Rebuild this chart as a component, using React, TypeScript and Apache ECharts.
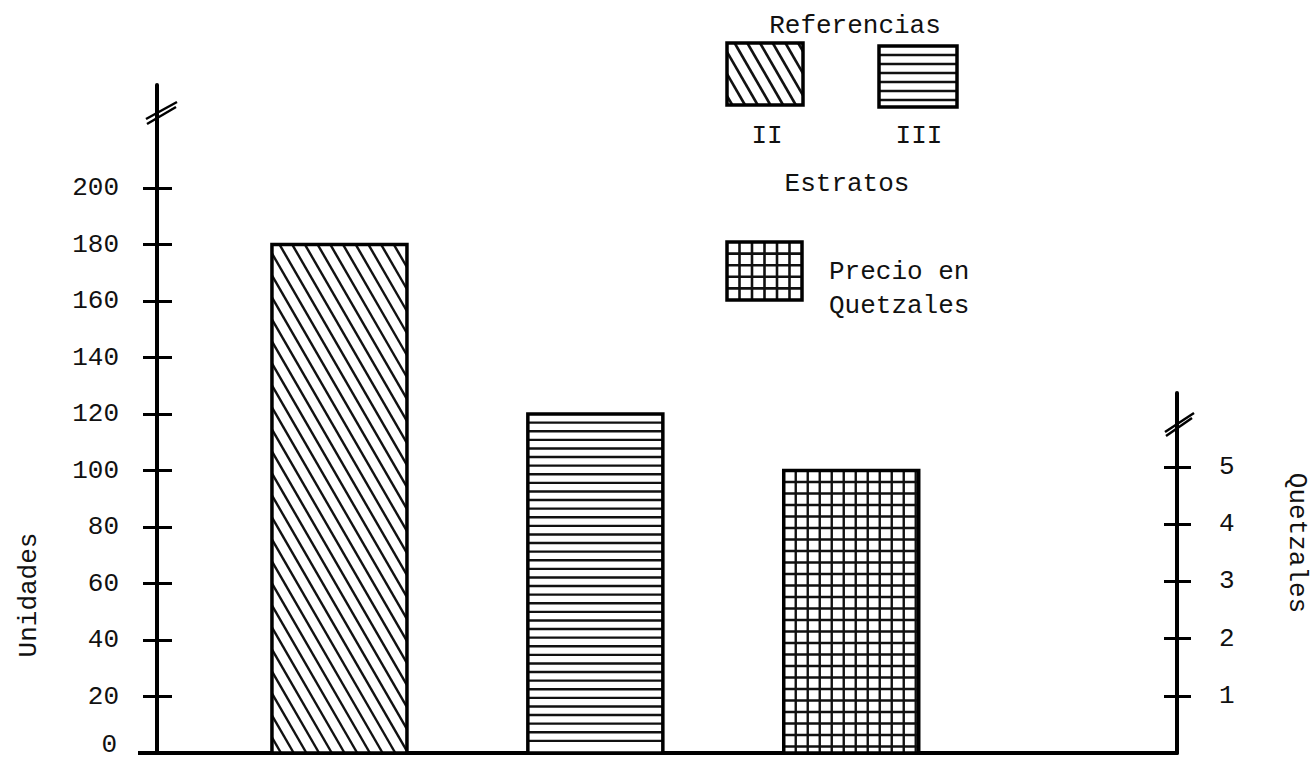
import React, { useEffect, useRef } from "react";
import * as echarts from "echarts";

// ---- data ----
const categories = ["II", "III", "Precio en Quetzales"];
const unidades = [180, 120, 100];
const patterns = ["diagonal", "horizontal", "grid"];
const leftTickValues = [20, 40, 60, 80, 100, 120, 140, 160, 180, 200];
const leftLabelValues = [0, 20, 40, 60, 80, 100, 120, 140, 160, 180, 200];
const rightValues = [1, 2, 3, 4, 5];
const leftAxisName = "Unidades";
const rightAxisName = "Quetzales";
const legendTitle = "Referencias";
const legendGroupName = "Estratos";
const legendPriceLines = ["Precio en", "Quetzales"];

const FONT = '"Liberation Mono", "Courier New", monospace';
const INK = "#111";

type Line = { type: string; shape: any; style: any; silent?: boolean };

function hatch(kind: string, x0: number, y0: number, w: number, h: number, lw: number, spD = 12.7, spH = 8.6, spGX = 12, spGY = 11.5): Line[] {
  const out: Line[] = [];
  const style = { stroke: INK, lineWidth: lw, lineCap: "butt" };
  const push = (x1: number, y1: number, x2: number, y2: number) =>
    out.push({ type: "line", shape: { x1, y1, x2, y2 }, style, silent: true });
  if (kind === "diagonal") {
    const k = Math.tan(Math.PI / 3);
    const n = Math.ceil(h / k / spD) + 1;
    for (let c = x0 + spD * 0.6 - n * spD; c < x0 + w; c += spD) {
      const t0 = Math.max(0, x0 - c);
      const t1 = Math.min(x0 + w - c, h / k);
      if (t1 > t0 + 0.5) push(c + t0, y0 + k * t0, c + t1, y0 + k * t1);
    }
  } else if (kind === "horizontal") {
    for (let y = y0 + spH; y < y0 + h - 4; y += spH) push(x0, y, x0 + w, y);
  } else {
    for (let y = y0 + spGY; y < y0 + h - 4; y += spGY) push(x0, y, x0 + w, y);
    for (let x = x0 + spGX; x < x0 + w - 2; x += spGX) push(x, y0, x, y0 + h);
  }
  return out;
}

function swatch(kind: string, x: number, y: number, w: number, h: number, spH = 8.6) {
  return {
    type: "group",
    children: [
      { type: "rect", shape: { x, y, width: w, height: h }, style: { fill: "#fff" } },
      ...hatch(kind, x, y, w, h, 2.6, 12.7, spH, 12.5, 11.6),
      { type: "rect", shape: { x, y, width: w, height: h }, style: { fill: "none", stroke: "#000", lineWidth: 3.5 } },
    ],
  };
}

function txt(text: string, x: number, y: number, align: string, rotation = 0) {
  return {
    type: "text",
    x,
    y,
    rotation,
    style: { text, fill: INK, fontFamily: FONT, fontSize: 26, align, verticalAlign: "middle" },
  };
}

export default function App() {
  const ref = useRef<HTMLDivElement>(null);
  useEffect(() => {
    if (!ref.current) return;
    const chart = echarts.init(ref.current, undefined, { renderer: "svg" });
    const axisLineStyle = { color: "#000", width: 4 };
    const tickStyle = { color: "#000", width: 3 };
    const labelStyle = { fontFamily: FONT, fontSize: 26, color: INK };
    // the lowest label sits on the page's bottom edge, so it is placed a few pixels higher as text
    const axisLeftLabels = leftLabelValues.filter((v) => v > 0);
    const zeroLabel = String(leftLabelValues[0]);

    const option: any = {
      animation: false,
      backgroundColor: "#fff",
      grid: [
        { left: 157, top: 85, width: 1020, height: 668, outerBoundsMode: "none", containLabel: false },
        { left: 157, top: 393, width: 1020, height: 360, outerBoundsMode: "none", containLabel: false },
      ],
      xAxis: [
        {
          gridIndex: 0,
          type: "value",
          min: -0.713,
          max: 3.273,
          axisLine: { show: true, onZero: false, lineStyle: axisLineStyle },
          axisTick: { show: false },
          axisLabel: { show: false },
          splitLine: { show: false },
        },
        { gridIndex: 1, type: "value", min: 0, max: 1, show: false },
      ],
      yAxis: [
        {
          gridIndex: 0,
          position: "left",
          type: "value",
          min: 0,
          max: 236.5,
          axisLine: { show: true, onZero: false, lineStyle: axisLineStyle },
          axisTick: { show: true, inside: false, length: 14, lineStyle: tickStyle, customValues: leftTickValues },
          axisLabel: { show: true, margin: 38, ...labelStyle, customValues: axisLeftLabels },
          splitLine: { show: false },
        },
        {
          gridIndex: 0,
          position: "left",
          type: "value",
          min: 0,
          max: 236.5,
          axisLine: { show: false, onZero: false },
          axisTick: { show: true, inside: true, length: 15, lineStyle: tickStyle, customValues: leftTickValues },
          axisLabel: { show: false },
          splitLine: { show: false },
        },
        {
          gridIndex: 1,
          position: "right",
          type: "value",
          min: 0,
          max: 6.29,
          axisLine: { show: true, onZero: false, lineStyle: axisLineStyle },
          axisTick: { show: true, inside: false, length: 14, lineStyle: tickStyle, customValues: rightValues },
          axisLabel: { show: true, margin: 42, ...labelStyle, align: "left", customValues: rightValues },
          splitLine: { show: false },
        },
        {
          gridIndex: 1,
          position: "right",
          type: "value",
          min: 0,
          max: 6.29,
          axisLine: { show: false, onZero: false },
          axisTick: { show: true, inside: true, length: 13, lineStyle: tickStyle, customValues: rightValues },
          axisLabel: { show: false },
          splitLine: { show: false },
        },
      ],
      series: [
        {
          type: "custom",
          name: "Unidades",
          xAxisIndex: 0,
          yAxisIndex: 0,
          clip: false,
          data: unidades.map((v, i) => ({ name: categories[i], value: [i, v] })),
          renderItem: (params: any, api: any) => {
            const i = api.value(0);
            const v = api.value(1);
            const top = api.coord([i, v]);
            const base = api.coord([i, 0]);
            const w = 135;
            const x0 = top[0] - w / 2;
            const y0 = top[1];
            const h = base[1] - top[1];
            const kind = patterns[params.dataIndex];
            return {
              type: "group",
              children: [
                { type: "rect", shape: { x: x0, y: y0, width: w, height: h }, style: { fill: "#fff" } },
                ...hatch(kind, x0, y0, w, h, 2.4),
                { type: "rect", shape: { x: x0, y: y0, width: w, height: h }, style: { fill: "none", stroke: "#000", lineWidth: 3.5 } },
              ],
            };
          },
        },
      ],
      graphic: [
        // baseline extension left of the vertical axis
        { type: "line", shape: { x1: 138, y1: 753, x2: 158, y2: 753 }, style: { stroke: "#000", lineWidth: 4 } },
        // axis break marks
        { type: "line", shape: { x1: 146, y1: 119, x2: 177, y2: 102 }, style: { stroke: "#000", lineWidth: 2.5 } },
        { type: "line", shape: { x1: 147, y1: 124, x2: 176, y2: 107 }, style: { stroke: "#000", lineWidth: 2.5 } },
        { type: "line", shape: { x1: 1165, y1: 432, x2: 1194, y2: 413 }, style: { stroke: "#000", lineWidth: 2.5 } },
        { type: "line", shape: { x1: 1166, y1: 436, x2: 1192, y2: 418 }, style: { stroke: "#000", lineWidth: 2.5 } },
        // lowest left label
        txt(zeroLabel, 117, 745, "right"),
        // axis names
        txt(leftAxisName, 29, 595, "center", Math.PI / 2),
        txt(rightAxisName, 1297, 543, "center", -Math.PI / 2),
        // legend
        txt(legendTitle, 855, 26, "center"),
        swatch(patterns[0], 727, 43, 76, 62),
        swatch(patterns[1], 879, 46, 78, 61, 9),
        txt(categories[0], 767, 136, "center"),
        txt(categories[1], 919, 136, "center"),
        txt(legendGroupName, 847, 184, "center"),
        swatch(patterns[2], 727, 242, 75, 58),
        txt(legendPriceLines[0], 829, 272, "left"),
        txt(legendPriceLines[1], 829, 306, "left"),
      ],
    };
    chart.setOption(option);
    return () => chart.dispose();
  }, []);
  return (
    <div
      ref={ref}
      style={{ position: "fixed", left: 0, top: 0, width: 1315, height: 760, background: "#fff" }}
    />
  );
}
